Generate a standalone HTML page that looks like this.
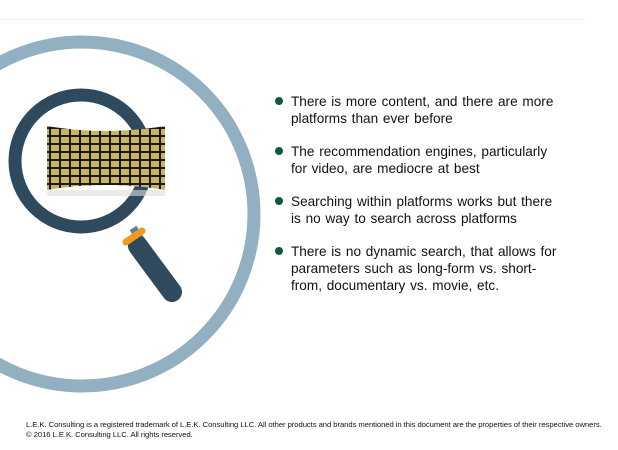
<!DOCTYPE html>
<html><head><style>
body{margin:0;width:618px;height:450px;background:#fff;position:relative;overflow:hidden;font-family:"Liberation Sans",Arial,sans-serif}
.hl{position:absolute;left:0;top:19px;width:585px;height:1px;background:#f0f0f0}
ul{position:absolute;left:272px;top:93px;margin:0;padding:0;list-style:none;font-size:13.6px;line-height:17px;color:#111}
li{position:relative;padding-left:19px;margin-bottom:16px;width:274px;word-spacing:1px}
li:before{content:"";position:absolute;left:3px;top:4px;width:8px;height:8px;border-radius:50%;background:#0b5a3c}
.foot{position:absolute;left:26px;top:420px;font-size:7.4px;line-height:10px;color:#111;letter-spacing:-0.05px;white-space:nowrap;transform:scaleX(1.035);transform-origin:0 0}
</style></head><body>
<div class="hl"></div>
<svg width="618" height="450" style="position:absolute;left:0;top:0">
<circle cx="82" cy="214" r="172" fill="none" stroke="#93afc2" stroke-width="13"/>
<line x1="133" y1="228" x2="145" y2="246" stroke="#5a8399" stroke-width="8"/>
<line x1="138" y1="246" x2="172" y2="292" stroke="#2f4a5c" stroke-width="20" stroke-linecap="round"/>
<line x1="126" y1="242" x2="142" y2="231" stroke="#f39a1e" stroke-width="7" stroke-linecap="round"/>
<circle cx="81" cy="161" r="66" fill="none" stroke="#2f4a5c" stroke-width="13"/>
<defs><pattern id="p" width="10" height="8" patternUnits="userSpaceOnUse"><rect width="10" height="8" fill="#1a1a1a"/><rect x="1" y="1" width="8" height="6" fill="#c9b465"/></pattern></defs>
<path d="M47 126 Q106 136 165 126 L165 190 Q106 180 47 190 Z" fill="url(#p)"/>
<rect x="47" y="190" width="118" height="6" fill="#ddd" opacity="0.6"/>
</svg>
<ul>
<li>There is more content, and there are more platforms than ever before</li>
<li>The recommendation engines, particularly for video, are mediocre at best</li>
<li>Searching within platforms works but there is no way to search across platforms</li>
<li>There is no dynamic search, that allows for parameters such as long-form vs. short-from, documentary vs. movie, etc.</li>
</ul>
<div class="foot">L.E.K. Consulting is a registered trademark of L.E.K. Consulting LLC. All other products and brands mentioned in this document are the properties of their respective owners.<br>© 2016 L.E.K. Consulting LLC. All rights reserved.</div>
</body></html>
